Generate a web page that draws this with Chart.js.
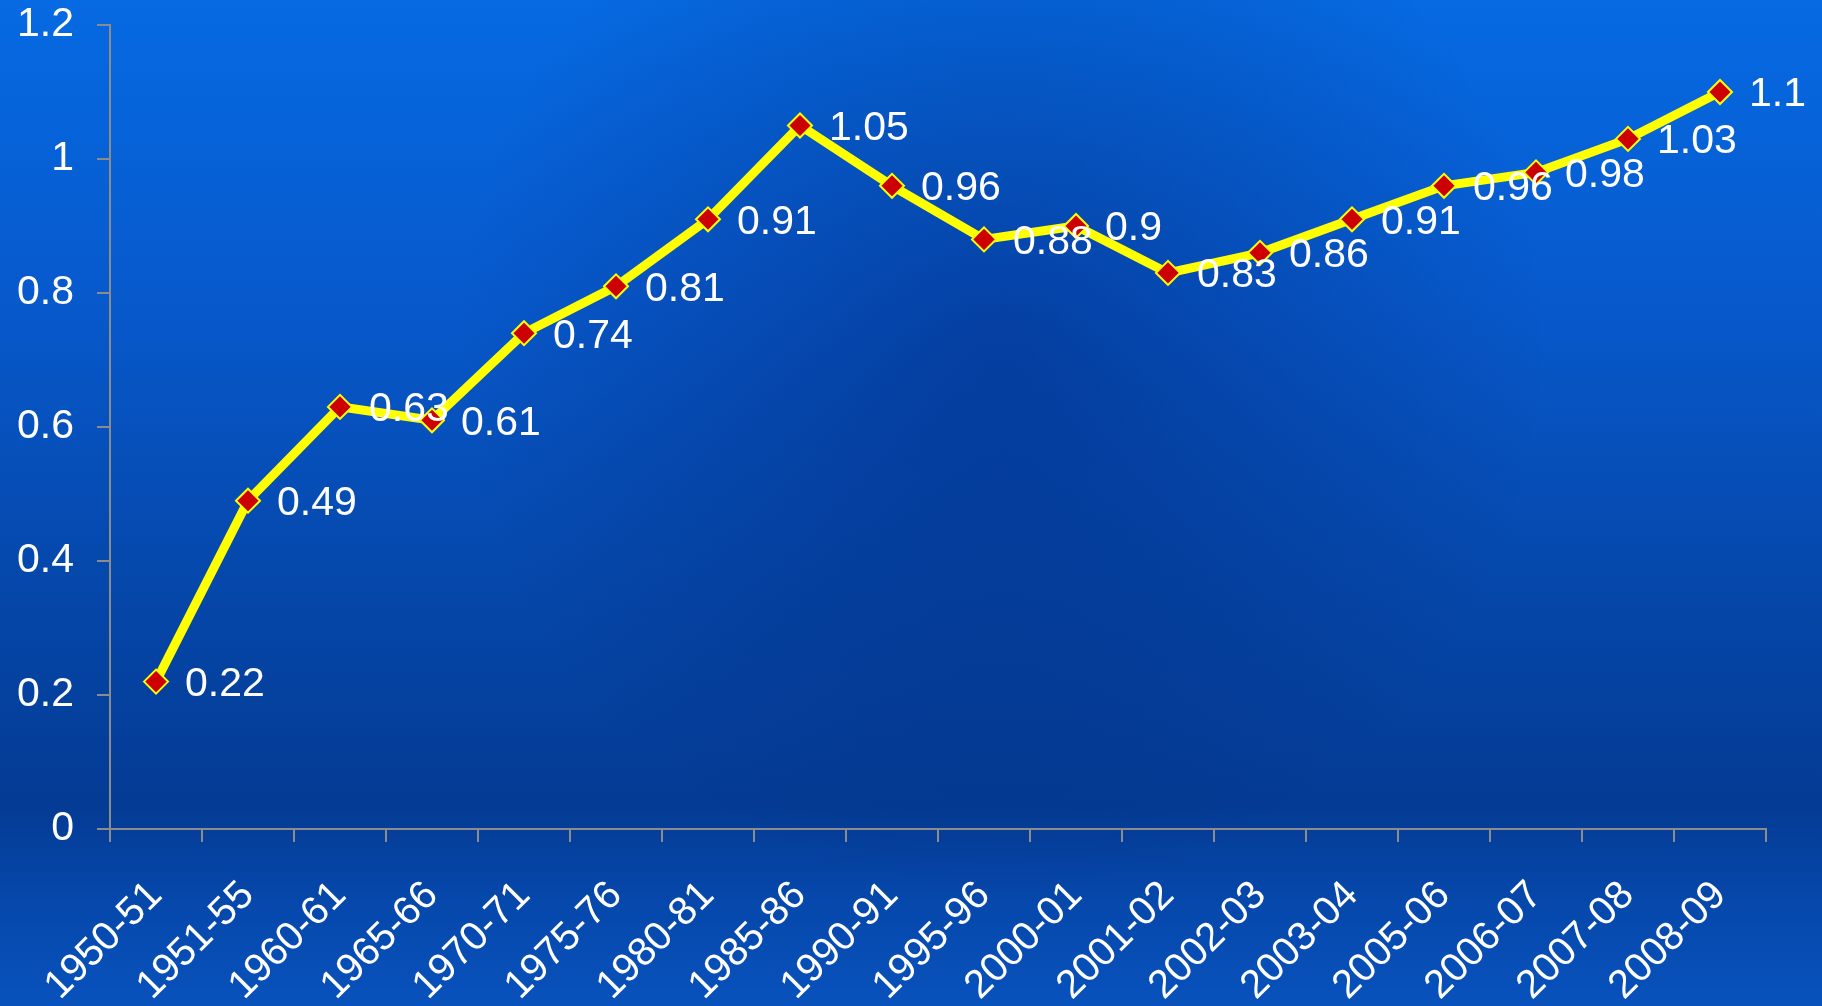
<!DOCTYPE html>
<html>
<head>
<meta charset="utf-8">
<script src="https://cdn.jsdelivr.net/npm/chart.js@4.4.1/dist/chart.umd.min.js"></script>
<style>
    html, body { margin: 0; padding: 0; background: #0658c8; }
    #wrap { width: 1822px; height: 1006px; position: relative; }
</style>
</head>
<body>
<div id="wrap"><canvas id="chart"></canvas></div>
<script>
const years = ["1950-51", "1951-55", "1960-61", "1965-66", "1970-71", "1975-76", "1980-81", "1985-86", "1990-91",
    "1995-96", "2000-01", "2001-02", "2002-03", "2003-04", "2005-06", "2006-07", "2007-08", "2008-09"];
const values = [0.22, 0.49, 0.63, 0.61, 0.74, 0.81, 0.91, 1.05, 0.96, 0.88, 0.9, 0.83, 0.86, 0.91, 0.96, 0.98, 1.03, 1.1];
const yMin = 0;
const yMax = 1.2;
const yStep = 0.2;

const FONT = "'Liberation Sans', Arial, sans-serif";

// blue backdrop behind everything
const background =
{
    id: "background",
    beforeDraw(chart)
    {
        const ctx = chart.ctx;
        const w = chart.width, h = chart.height;
        const g = ctx.createLinearGradient(0, 0, 0, h);
        g.addColorStop(0, "#066ae2");
        g.addColorStop(0.3, "#0759cc");
        g.addColorStop(0.6, "#0546a8");
        g.addColorStop(0.8, "#043b94");
        g.addColorStop(0.9, "#0648ac");
        g.addColorStop(1, "#0852bc");
        ctx.save();
        ctx.fillStyle = g;
        ctx.fillRect(0, 0, w, h);
        const r = ctx.createRadialGradient(w * 0.55, h * 0.35, 20, w * 0.55, h * 0.35, w * 0.3);
        r.addColorStop(0, "rgba(0,20,90,0.35)");
        r.addColorStop(1, "rgba(0,20,90,0)");
        ctx.fillStyle = r;
        ctx.fillRect(0, 0, w, h);
        ctx.restore();
    }
};

// value text to the right of each marker
const valueLabels =
{
    id: "valueLabels",
    afterDatasetsDraw(chart)
    {
        const ctx = chart.ctx;
        const meta = chart.getDatasetMeta(0);
        ctx.save();
        ctx.fillStyle = "#ffffff";
        ctx.font = "41px " + FONT;
        ctx.textAlign = "left";
        ctx.textBaseline = "middle";
        meta.data.forEach((pt, i) =>
        {
            ctx.fillText(String(values[i]), pt.x + 29, pt.y + 3);
        });
        ctx.restore();
    }
};

new Chart(document.getElementById("chart"),
{
    type: "line",
    data:
    {
        labels: years,
        datasets:
        [
            {
                data: values,
                borderColor: "#ffff00",
                borderWidth: 9,
                tension: 0,
                pointStyle: "rectRot",
                pointRadius: 12,
                pointHoverRadius: 12,
                pointBackgroundColor: "#cc0000",
                pointBorderColor: "#ffff00",
                pointBorderWidth: 2
            }
        ]
    },
    options:
    {
        responsive: true,
        maintainAspectRatio: false,
        animation: false,
        layout: { padding: { top: 0, right: 56, left: 0, bottom: 0 } },
        plugins:
        {
            legend: { display: false },
            tooltip: { enabled: false }
        },
        scales:
        {
            x:
            {
                offset: true,
                grid:
                {
                    offset: true,
                    drawOnChartArea: false,
                    drawTicks: true,
                    tickLength: 13,
                    color: "#8c8c8c",
                    lineWidth: 2
                },
                border: { color: "#8c8c8c", width: 2 },
                ticks:
                {
                    color: "#ffffff",
                    font: { family: FONT, size: 40 },
                    minRotation: 45,
                    maxRotation: 45,
                    autoSkip: false,
                    padding: 30
                },
                afterFit(scale) { scale.height = 177; }
            },
            y:
            {
                min: yMin,
                max: yMax,
                grid:
                {
                    drawOnChartArea: false,
                    drawTicks: true,
                    tickLength: 13,
                    color: "#8c8c8c",
                    lineWidth: 2
                },
                border: { color: "#8c8c8c", width: 2 },
                ticks:
                {
                    stepSize: yStep,
                    color: "#ffffff",
                    font: { family: FONT, size: 41 },
                    padding: 23,
                    callback: v => String(Math.round(v * 10) / 10)
                },
                afterFit(scale)
                {
                    scale.width = 110;
                    scale.paddingTop = 25;
                }
            }
        }
    },
    plugins: [background, valueLabels]
});
</script>
</body>
</html>
